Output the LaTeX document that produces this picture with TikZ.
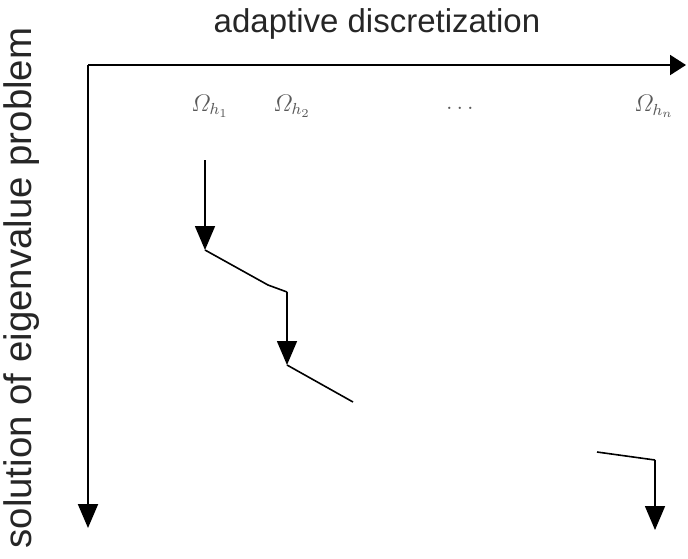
\documentclass[tikz,border=0pt]{standalone}
\usepackage{amsmath, amssymb}
\usepackage{fontspec}
\setsansfont{Liberation Sans}
\usetikzlibrary{arrows.meta,calc,positioning}

\begin{document}
\begin{tikzpicture}[x=0.5pt,y=-0.5pt,
    axislabel/.style={font=\sffamily\fontsize{16.5}{19}\selectfont, text=black!85},
    meshlabel/.style={font=\fontsize{11.5}{13}\selectfont, text=black!65},
    steparrow/.style={line width=0.8pt, -{Triangle[width=10pt,length=12pt]}},
    stepline/.style={line width=0.8pt}]
            \useasboundingbox (0,0) rectangle (688,558);
            % Define points
            \coordinate (O) at (88, 65);
            \coordinate (X) at (686, 65);
            \coordinate (Y) at (88, 528);
            % Axes
            \draw[line width=1pt, -{Triangle[width=10pt,length=8pt]}] (O) -- (X);
            \draw[line width=1pt, -{Triangle[width=10pt,length=12pt]}] (O) -- (Y);
            \node[axislabel] (xlab) at (377, 24) {adaptive discretization};
            \node[axislabel, font=\sffamily\fontsize{19.2}{22}\selectfont, rotate=90] (ylab) at (22, 288) {solution of eigenvalue problem};
            % Label the meshes
            \node[meshlabel] (h1) at (210, 106) {$\varOmega_{h_1}$};
            \node[meshlabel] (h2) at (292, 106) {$\varOmega_{h_2}$};
            \node[meshlabel] (hdots) at (462, 108) {$\dots$};
            \node[meshlabel] (hn) at (654, 106) {$\varOmega_{h_n}$};
            % Steps
            \coordinate (a1) at (205, 160);
            \coordinate (b1) at (205, 250);
            \coordinate (k1) at (268, 285);
            \coordinate (a2) at (287, 292);
            \coordinate (b2) at (287, 365);
            \coordinate (e2) at (353, 402);
            \coordinate (sn) at (597, 452);
            \coordinate (an) at (655, 460);
            \coordinate (bn) at (655, 530);
            \draw[steparrow] (a1) -- (b1);
            \draw[stepline] (b1) -- (k1) -- (a2);
            \draw[steparrow] (a2) -- (b2);
            \draw[stepline] (b2) -- (e2);
            \draw[stepline] (sn) -- (an);
            \draw[steparrow] (an) -- (bn);
          \end{tikzpicture}
\end{document}
